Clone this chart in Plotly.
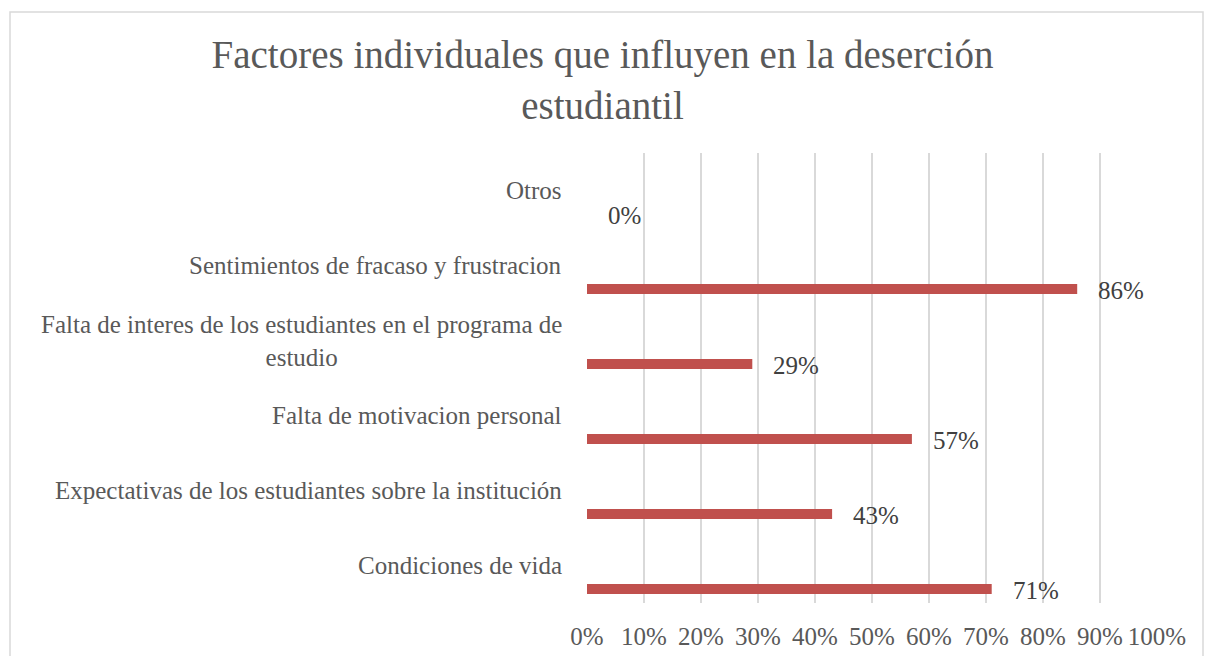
import plotly.graph_objects as go

# ---- data (bottom to top, as drawn) ----
categories = [
    "Condiciones de vida",
    "Expectativas de los estudiantes sobre la institución",
    "Falta de motivacion personal",
    "Falta de interes de los estudiantes en el programa de<br>estudio",
    "Sentimientos de fracaso y frustracion",
    "Otros",
]
values = [0.71, 0.43, 0.57, 0.29, 0.86, 0.0]
value_labels = ["71%", "43%", "57%", "29%", "86%", "0%"]
x_tickvals = [0, 0.1, 0.2, 0.3, 0.4, 0.5, 0.6, 0.7, 0.8, 0.9, 1.0]
x_ticktext = ["0%", "10%", "20%", "30%", "40%", "50%", "60%", "70%", "80%", "90%", "100%"]
title_text = "Factores individuales que influyen en la deserción<br>estudiantil"

# ---- layout geometry (px) ----
W, H = 1205, 656
L, R, T, B = 587, 1157, 153, 603
FONT = "Liberation Serif, Times New Roman, serif"
GREY = "#595959"
DARK = "#404040"
GRID = "#D9D9D9"
BAR = "#C0504D"

fig = go.Figure()
fig.add_trace(go.Bar(
    y=categories, x=values, orientation="h",
    marker=dict(color=BAR, line=dict(width=0)),
    width=0.135, offset=-0.38,
    hoverinfo="x+y", showlegend=False,
))

annotations = []
# category labels (centered multi-line, right-aligned block)
for c in categories:
    annotations.append(dict(
        x=0, xref="paper", y=c, yref="y", text=c,
        xanchor="right", yanchor="middle", align="center",
        xshift=-23, showarrow=False,
        font=dict(family=FONT, size=25, color=GREY),
    ))
# data labels
for c, v, t in zip(categories, values, value_labels):
    annotations.append(dict(
        x=v, xref="x", y=c, yref="y", text=t,
        xanchor="left", yanchor="middle",
        xshift=19, yshift=-25, showarrow=False,
        font=dict(family=FONT, size=25, color=DARK),
    ))

pw = R - L
ph = B - T
def px_x(p):
    return (p - L) / pw
def px_y(p):
    return (B - p) / ph

fig.update_layout(
    width=W, height=H,
    margin=dict(l=L, r=W - R, t=T, b=H - B, autoexpand=False),
    paper_bgcolor="white", plot_bgcolor="white",
    title=dict(
        text=title_text, x=0.5, xref="container", xanchor="center",
        y=1 - 68 / H, yref="container", yanchor="middle",
        font=dict(family=FONT, size=39, color=GREY),
        automargin=False,
    ),
    xaxis=dict(
        range=[0, 1], tickvals=x_tickvals, ticktext=x_ticktext,
        showgrid=True, gridcolor=GRID, gridwidth=1.6,
        zeroline=False, showline=False, ticks="",
        ticklabelstandoff=16, automargin=False,
        tickfont=dict(family=FONT, size=25, color=GREY),
        fixedrange=True,
    ),
    yaxis=dict(
        categoryorder="array", categoryarray=categories,
        showticklabels=False, showgrid=False, zeroline=False,
        showline=False, ticks="", range=[-0.5, 5.5], fixedrange=True,
        automargin=False,
    ),
    annotations=annotations,
    shapes=[dict(
        type="rect", xref="paper", yref="paper",
        x0=px_x(10), x1=px_x(1203), y0=px_y(700), y1=px_y(12),
        line=dict(color=GRID, width=1.5), fillcolor="rgba(0,0,0,0)", layer="below",
    )],
)

fig.write_html(
    "out.html",
    config={"displayModeBar": False},
    post_script="document.body.style.margin='0';document.body.style.overflow='hidden';",
)
